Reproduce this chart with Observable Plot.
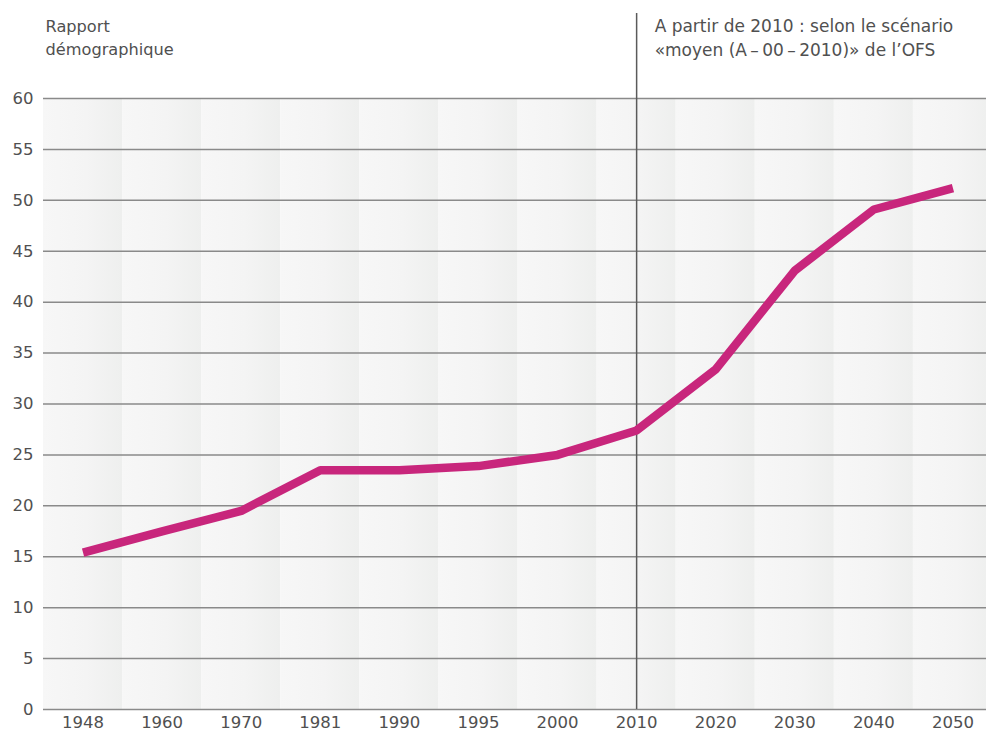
<!DOCTYPE html>
<html><head><meta charset="utf-8">
<script src="https://cdn.jsdelivr.net/npm/d3@7"></script>
<script src="https://cdn.jsdelivr.net/npm/@observablehq/plot@0.6"></script>
<style>body{margin:0;background:#fff}</style>
</head><body><div id="chart"></div>
<script>
const years = ["1948","1960","1970","1981","1990","1995","2000","2010","2020","2030","2040","2050"];
const ratio = [15.4, 17.5, 19.5, 23.5, 23.5, 23.9, 25.0, 27.4, 33.4, 43.1, 49.1, 51.2];
const yTicks = [0,5,10,15,20,25,30,35,40,45,50,55,60];
const yTitle = "Rapport\ndémographique";
const scenarioNote = "A partir de 2010 : selon le scénario\n«moyen (A\u2009–\u200900\u2009–\u20092010)» de l’OFS";
const projectionStart = "2010";

const data = years.map((year, i) => ({i, year, v: ratio[i]}));
const projIndex = years.indexOf(projectionStart);

const svg = Plot.plot({
  width: 986, height: 738,
  marginTop: 98, marginBottom: 29, marginLeft: 43, marginRight: -6,
  style: {fontFamily: "DejaVu Sans", fontSize: "16.5px", color: "#505050", background: "#fff"},
  x: {type: "linear", domain: [-0.5, years.length - 0.5], ticks: d3.range(years.length),
      tickFormat: i => years[i], tickSize: 0, tickPadding: 7, label: null},
  y: {domain: [0, 60], ticks: yTicks, tickSize: 0, tickPadding: 10, label: null},
  marks: [
    Plot.rect(data, {x1: d => d.i - 0.5, x2: d => d.i + 0.5, y1: 0, y2: 60, fill: "url(#bandGrad)"}),
    Plot.ruleY(yTicks, {stroke: "#8a8a8a", strokeWidth: 1.5}),
    Plot.ruleX([projIndex], {y1: 60, y2: 0, insetTop: -85, stroke: "#5a5a5a", strokeWidth: 1.5}),
    Plot.line(data, {x: "i", y: "v", stroke: "#c8267c", strokeWidth: 8.5, strokeLinecap: "butt", strokeLinejoin: "miter"}),
    Plot.text([yTitle], {frameAnchor: "top-left", dx: 2, dy: -83, lineAnchor: "top", textAnchor: "start", lineHeight: 1.42, fill: "#505050", fontSize: 16.2}),
    Plot.text([scenarioNote], {x: projIndex, frameAnchor: "top", dx: 18, dy: -83, lineAnchor: "top", textAnchor: "start", lineHeight: 1.38, fill: "#505050", fontSize: 17})
  ]
});

const defs = d3.select(svg).insert("defs", ":first-child");
const g = defs.append("linearGradient").attr("id", "bandGrad").attr("x1", "0").attr("x2", "1").attr("y1", "0").attr("y2", "0");
g.append("stop").attr("offset", "0%").attr("stop-color", "#f7f7f7");
g.append("stop").attr("offset", "55%").attr("stop-color", "#f4f4f4");
g.append("stop").attr("offset", "100%").attr("stop-color", "#eeefee");

document.getElementById("chart").appendChild(svg);
</script>
</body></html>
